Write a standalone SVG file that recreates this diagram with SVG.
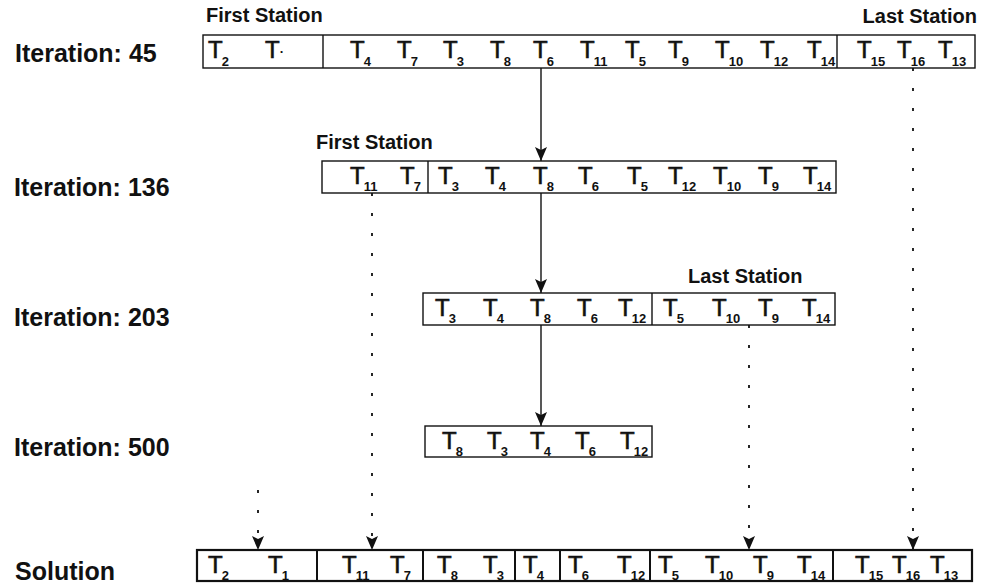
<svg xmlns="http://www.w3.org/2000/svg" width="982" height="587" viewBox="0 0 982 587">
<style>
text{font-family:"Liberation Sans",Arial,Helvetica,sans-serif;fill:#111;}
.lbl{font-size:25px;font-weight:bold;}
.st{font-size:20px;font-weight:bold;}
.t{font-size:24px;stroke:#111;stroke-width:0.6;}
.s{font-size:13px;font-weight:bold;stroke:none;}
.box{fill:#fff;stroke:#111;stroke-width:1.4;}
.sol{fill:#fff;stroke:#111;stroke-width:2.2;}
.div{stroke:#111;stroke-width:1.4;}
.divs{stroke:#111;stroke-width:2;}
.solid{stroke:#111;stroke-width:1.4;fill:none;}
.dot{stroke:#111;stroke-width:1.8;fill:none;stroke-dasharray:3 17;}
</style>
<defs>
<marker id="ah" markerUnits="userSpaceOnUse" viewBox="0 -6 14 12" markerWidth="14" markerHeight="12" refX="14" refY="0" orient="auto">
<path d="M0,-6 L14,0 L0,6 L3,0 Z" fill="#111"/>
</marker>
</defs>

<g id="labels">
<text class="lbl" x="15" y="62">Iteration: 45</text>
<text class="lbl" x="14" y="196">Iteration: 136</text>
<text class="lbl" x="14" y="326">Iteration: 203</text>
<text class="lbl" x="14" y="456">Iteration: 500</text>
<text class="lbl" x="15" y="580">Solution</text>
<text class="st" x="206" y="22">First Station</text>
<text class="st" x="977" y="23" text-anchor="end">Last Station</text>
<text class="st" x="316" y="149">First Station</text>
<text class="st" x="688" y="283">Last Station</text>
</g>

<g id="connectors">
<line class="solid" x1="541" y1="68" x2="541" y2="161" marker-end="url(#ah)"/>
<line class="solid" x1="541" y1="193" x2="541" y2="293" marker-end="url(#ah)"/>
<line class="solid" x1="541" y1="325" x2="541" y2="426" marker-end="url(#ah)"/>
<line class="dot" x1="258" y1="490" x2="258" y2="550" marker-end="url(#ah)"/>
<line class="dot" x1="372" y1="193" x2="372" y2="550" marker-end="url(#ah)"/>
<line class="dot" x1="749" y1="325" x2="749" y2="550" marker-end="url(#ah)"/>
<line class="dot" x1="913" y1="68" x2="913" y2="550" marker-end="url(#ah)"/>
</g>

<g id="iter45">
<rect class="box" x="203" y="35" width="772" height="33"/>
<line class="div" x1="323" y1="35" x2="323" y2="68"/>
<line class="div" x1="837" y1="35" x2="837" y2="68"/>
<text class="t" x="208" y="58">T<tspan class="s" dx="-1" dy="8">2</tspan></text>
<text class="t" x="265" y="58">T<tspan class="s" dx="0" dy="-5">.</tspan></text>
<text class="t" x="350" y="58">T<tspan class="s" dx="-1" dy="8">4</tspan></text>
<text class="t" x="397" y="58">T<tspan class="s" dx="-1" dy="8">7</tspan></text>
<text class="t" x="443" y="58">T<tspan class="s" dx="-1" dy="8">3</tspan></text>
<text class="t" x="490" y="58">T<tspan class="s" dx="-1" dy="8">8</tspan></text>
<text class="t" x="533" y="58">T<tspan class="s" dx="-1" dy="8">6</tspan></text>
<text class="t" x="580" y="58">T<tspan class="s" dx="-1" dy="8">11</tspan></text>
<text class="t" x="625" y="58">T<tspan class="s" dx="-1" dy="8">5</tspan></text>
<text class="t" x="668" y="58">T<tspan class="s" dx="-1" dy="8">9</tspan></text>
<text class="t" x="715" y="58">T<tspan class="s" dx="-1" dy="8">10</tspan></text>
<text class="t" x="760" y="58">T<tspan class="s" dx="-1" dy="8">12</tspan></text>
<text class="t" x="807" y="58">T<tspan class="s" dx="-1" dy="8">14</tspan></text>
<text class="t" x="857" y="58">T<tspan class="s" dx="-1" dy="8">15</tspan></text>
<text class="t" x="897" y="58">T<tspan class="s" dx="-1" dy="8">16</tspan></text>
<text class="t" x="938" y="58">T<tspan class="s" dx="-1" dy="8">13</tspan></text>
</g>

<g id="iter136">
<rect class="box" x="322" y="161" width="514" height="32"/>
<line class="div" x1="428" y1="161" x2="428" y2="193"/>
<text class="t" x="350" y="184">T<tspan class="s" dx="-1" dy="7">11</tspan></text>
<text class="t" x="400" y="184">T<tspan class="s" dx="-1" dy="7">7</tspan></text>
<text class="t" x="438" y="184">T<tspan class="s" dx="-1" dy="7">3</tspan></text>
<text class="t" x="485" y="184">T<tspan class="s" dx="-1" dy="7">4</tspan></text>
<text class="t" x="533" y="184">T<tspan class="s" dx="-1" dy="7">8</tspan></text>
<text class="t" x="578" y="184">T<tspan class="s" dx="-1" dy="7">6</tspan></text>
<text class="t" x="627" y="184">T<tspan class="s" dx="-1" dy="7">5</tspan></text>
<text class="t" x="668" y="184">T<tspan class="s" dx="-1" dy="7">12</tspan></text>
<text class="t" x="713" y="184">T<tspan class="s" dx="-1" dy="7">10</tspan></text>
<text class="t" x="758" y="184">T<tspan class="s" dx="-1" dy="7">9</tspan></text>
<text class="t" x="803" y="184">T<tspan class="s" dx="-1" dy="7">14</tspan></text>
</g>

<g id="iter203">
<rect class="box" x="423" y="293" width="412" height="32"/>
<line class="div" x1="652" y1="293" x2="652" y2="325"/>
<text class="t" x="435" y="316">T<tspan class="s" dx="-1" dy="7">3</tspan></text>
<text class="t" x="483" y="316">T<tspan class="s" dx="-1" dy="7">4</tspan></text>
<text class="t" x="530" y="316">T<tspan class="s" dx="-1" dy="7">8</tspan></text>
<text class="t" x="577" y="316">T<tspan class="s" dx="-1" dy="7">6</tspan></text>
<text class="t" x="618" y="316">T<tspan class="s" dx="-1" dy="7">12</tspan></text>
<text class="t" x="663" y="316">T<tspan class="s" dx="-1" dy="7">5</tspan></text>
<text class="t" x="712" y="316">T<tspan class="s" dx="-1" dy="7">10</tspan></text>
<text class="t" x="758" y="316">T<tspan class="s" dx="-1" dy="7">9</tspan></text>
<text class="t" x="802" y="316">T<tspan class="s" dx="-1" dy="7">14</tspan></text>
</g>

<g id="iter500">
<rect class="box" x="425" y="426" width="227" height="31"/>
<text class="t" x="442" y="449">T<tspan class="s" dx="-1" dy="7">8</tspan></text>
<text class="t" x="487" y="449">T<tspan class="s" dx="-1" dy="7">3</tspan></text>
<text class="t" x="530" y="449">T<tspan class="s" dx="-1" dy="7">4</tspan></text>
<text class="t" x="575" y="449">T<tspan class="s" dx="-1" dy="7">6</tspan></text>
<text class="t" x="620" y="449">T<tspan class="s" dx="-1" dy="7">12</tspan></text>
</g>

<g id="solution">
<rect class="sol" x="197" y="550" width="775" height="31"/>
<line class="divs" x1="317" y1="550" x2="317" y2="581"/>
<line class="divs" x1="423" y1="550" x2="423" y2="581"/>
<line class="divs" x1="515" y1="550" x2="515" y2="581"/>
<line class="divs" x1="560" y1="550" x2="560" y2="581"/>
<line class="divs" x1="650" y1="550" x2="650" y2="581"/>
<line class="divs" x1="833" y1="550" x2="833" y2="581"/>
<text class="t" x="208" y="573">T<tspan class="s" dx="-1" dy="7">2</tspan></text>
<text class="t" x="268" y="573">T<tspan class="s" dx="-1" dy="7">1</tspan></text>
<text class="t" x="342" y="573">T<tspan class="s" dx="-1" dy="7">11</tspan></text>
<text class="t" x="390" y="573">T<tspan class="s" dx="-1" dy="7">7</tspan></text>
<text class="t" x="437" y="573">T<tspan class="s" dx="-1" dy="7">8</tspan></text>
<text class="t" x="483" y="573">T<tspan class="s" dx="-1" dy="7">3</tspan></text>
<text class="t" x="523" y="573">T<tspan class="s" dx="-1" dy="7">4</tspan></text>
<text class="t" x="568" y="573">T<tspan class="s" dx="-1" dy="7">6</tspan></text>
<text class="t" x="617" y="573">T<tspan class="s" dx="-1" dy="7">12</tspan></text>
<text class="t" x="658" y="573">T<tspan class="s" dx="-1" dy="7">5</tspan></text>
<text class="t" x="705" y="573">T<tspan class="s" dx="-1" dy="7">10</tspan></text>
<text class="t" x="753" y="573">T<tspan class="s" dx="-1" dy="7">9</tspan></text>
<text class="t" x="797" y="573">T<tspan class="s" dx="-1" dy="7">14</tspan></text>
<text class="t" x="855" y="573">T<tspan class="s" dx="-1" dy="7">15</tspan></text>
<text class="t" x="892" y="573">T<tspan class="s" dx="-1" dy="7">16</tspan></text>
<text class="t" x="930" y="573">T<tspan class="s" dx="-1" dy="7">13</tspan></text>
</g>
</svg>
